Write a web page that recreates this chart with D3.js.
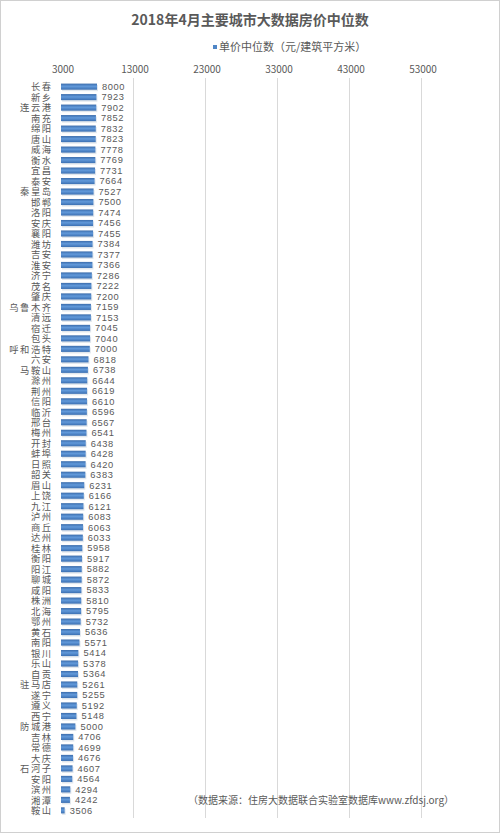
<!DOCTYPE html>
<html lang="zh">
<head>
    <meta charset="UTF-8">
    <title>2018年4月主要城市大数据房价中位数</title>
    <script src="https://d3js.org/d3.v7.min.js"></script>
    <style>
        body { margin: 0; background: white; }
        svg { display: block; font-family: "Noto Sans CJK SC", "Noto Sans", sans-serif; }
        .grid line { stroke: #d9d9d9; stroke-width: 1; }
        .label { fill: #595959; }
        .tight { font-family: "Liberation Sans", "Noto Sans CJK SC", sans-serif; }
    </style>
</head>
<body>
    <script>
        const cities = ['长春', '新乡', '连云港', '南充', '绵阳', '唐山', '威海', '衡水', '宜昌', '泰安',
                        '秦皇岛', '邯郸', '洛阳', '安庆', '襄阳', '潍坊', '吉安', '淮安', '济宁', '茂名',
                        '肇庆', '乌鲁木齐', '清远', '宿迁', '包头', '呼和浩特', '六安', '马鞍山', '滁州', '荆州',
                        '信阳', '临沂', '邢台', '梅州', '开封', '蚌埠', '日照', '韶关', '眉山', '上饶',
                        '九江', '泸州', '商丘', '达州', '桂林', '衡阳', '阳江', '聊城', '咸阳', '株洲',
                        '北海', '鄂州', '黄石', '南阳', '银川', '乐山', '自贡', '驻马店', '遂宁', '遵义',
                        '西宁', '防城港', '吉林', '常德', '大庆', '石河子', '安阳', '滨州', '湘潭', '鞍山'];
        const prices = [8000, 7923, 7902, 7852, 7832, 7823, 7778, 7769, 7731, 7664,
                        7527, 7500, 7474, 7456, 7455, 7384, 7377, 7366, 7286, 7222,
                        7200, 7159, 7153, 7045, 7040, 7000, 6818, 6738, 6644, 6619,
                        6610, 6596, 6567, 6541, 6438, 6428, 6420, 6383, 6231, 6166,
                        6121, 6083, 6063, 6033, 5958, 5917, 5882, 5872, 5833, 5810,
                        5795, 5732, 5636, 5571, 5414, 5378, 5364, 5261, 5255, 5192,
                        5148, 5000, 4706, 4699, 4676, 4607, 4564, 4294, 4242, 3506];
        const ticks = [3000, 13000, 23000, 33000, 43000, 53000];

        const width = 500;
        const height = 833;

        const svg = d3.select('body')
                      .append('svg')
                      .attr('width', width)
                      .attr('height', height);

        // outer frame
        svg.append('rect')
           .attr('x', 0.5).attr('y', 0.5)
           .attr('width', width - 1).attr('height', height - 1)
           .attr('fill', 'white')
           .attr('stroke', '#d0d0d0');

        const defs = svg.append('defs');
        const grad = defs.append('linearGradient')
                         .attr('id', 'barGrad')
                         .attr('x1', 0).attr('y1', 0).attr('x2', 0).attr('y2', 1);
        grad.append('stop').attr('offset', '0%').attr('stop-color', '#3b6cab');
        grad.append('stop').attr('offset', '45%').attr('stop-color', '#6199da');
        grad.append('stop').attr('offset', '100%').attr('stop-color', '#3c70b2');

        const xScale = d3.scaleLinear()
                         .domain([3000, 53000])
                         .range([61, 421]);

        const yScale = d3.scaleBand()
                         .domain(cities)
                         .range([81.5, 815.5])
                         .paddingInner(0.42)
                         .paddingOuter(0.2);

        // title
        svg.append('text')
           .attr('x', 250).attr('y', 25)
           .attr('text-anchor', 'middle')
           .attr('class', 'label')
           .style('font-size', '14px')
           .style('font-weight', 'bold')
           .text('2018年4月主要城市大数据房价中位数');

        // legend
        svg.append('rect')
           .attr('x', 213).attr('y', 45)
           .attr('width', 4).attr('height', 4)
           .attr('fill', '#4f86c6');
        svg.append('text')
           .attr('x', 219).attr('y', 51)
           .attr('class', 'label')
           .style('font-size', '11px')
           .text('单价中位数（元/建筑平方米）');

        // tick labels + gridlines
        svg.append('g')
           .selectAll('text')
           .data(ticks)
           .join('text')
           .attr('x', d => xScale(d) + 2)
           .attr('y', 73)
           .attr('text-anchor', 'middle')
           .attr('class', 'label')
           .style('font-size', '10px')
           .text(d => d);

        svg.append('g')
           .attr('class', 'grid')
           .selectAll('line')
           .data(ticks.slice(1))
           .join('line')
           .attr('x1', d => xScale(d) + 0.5)
           .attr('x2', d => xScale(d) + 0.5)
           .attr('y1', 78)
           .attr('y2', 818);

        // bar shadow
        svg.append('g')
           .selectAll('rect')
           .data(prices)
           .join('rect')
           .attr('x', xScale(3000) + 1)
           .attr('y', (d, i) => yScale(cities[i]) + 1.5)
           .attr('width', d => xScale(d) - xScale(3000))
           .attr('height', yScale.bandwidth())
           .attr('fill', '#c4cfdc')
           .attr('opacity', 0.5);

        // bars
        svg.append('g')
           .selectAll('rect')
           .data(prices)
           .join('rect')
           .attr('x', xScale(3000))
           .attr('y', (d, i) => yScale(cities[i]))
           .attr('width', d => xScale(d) - xScale(3000))
           .attr('height', yScale.bandwidth())
           .attr('fill', 'url(#barGrad)');

        // value labels
        svg.append('g')
           .selectAll('text')
           .data(prices)
           .join('text')
           .attr('x', d => xScale(d) + 5)
           .attr('y', (d, i) => yScale(cities[i]) + yScale.bandwidth() / 2)
           .attr('dy', '0.36em')
           .attr('class', 'label tight')
           .style('font-size', '9.3px')
           .style('letter-spacing', '0.6px')
           .text(d => d);

        // city labels
        svg.append('g')
           .selectAll('text')
           .data(cities)
           .join('text')
           .attr('x', 52.5)
           .attr('y', d => yScale(d) + yScale.bandwidth() / 2)
           .attr('dy', '0.4em')
           .attr('text-anchor', 'end')
           .attr('class', 'label tight')
           .style('font-size', '9.3px')
           .style('letter-spacing', '1.5px')
           .text(d => d);

        // source note
        svg.append('text')
           .attr('x', 188).attr('y', 804)
           .attr('class', 'label')
           .style('font-size', '10px')
           .text('（数据来源：住房大数据联合实验室数据库www.zfdsj.org）');
    </script>
</body>
</html>
